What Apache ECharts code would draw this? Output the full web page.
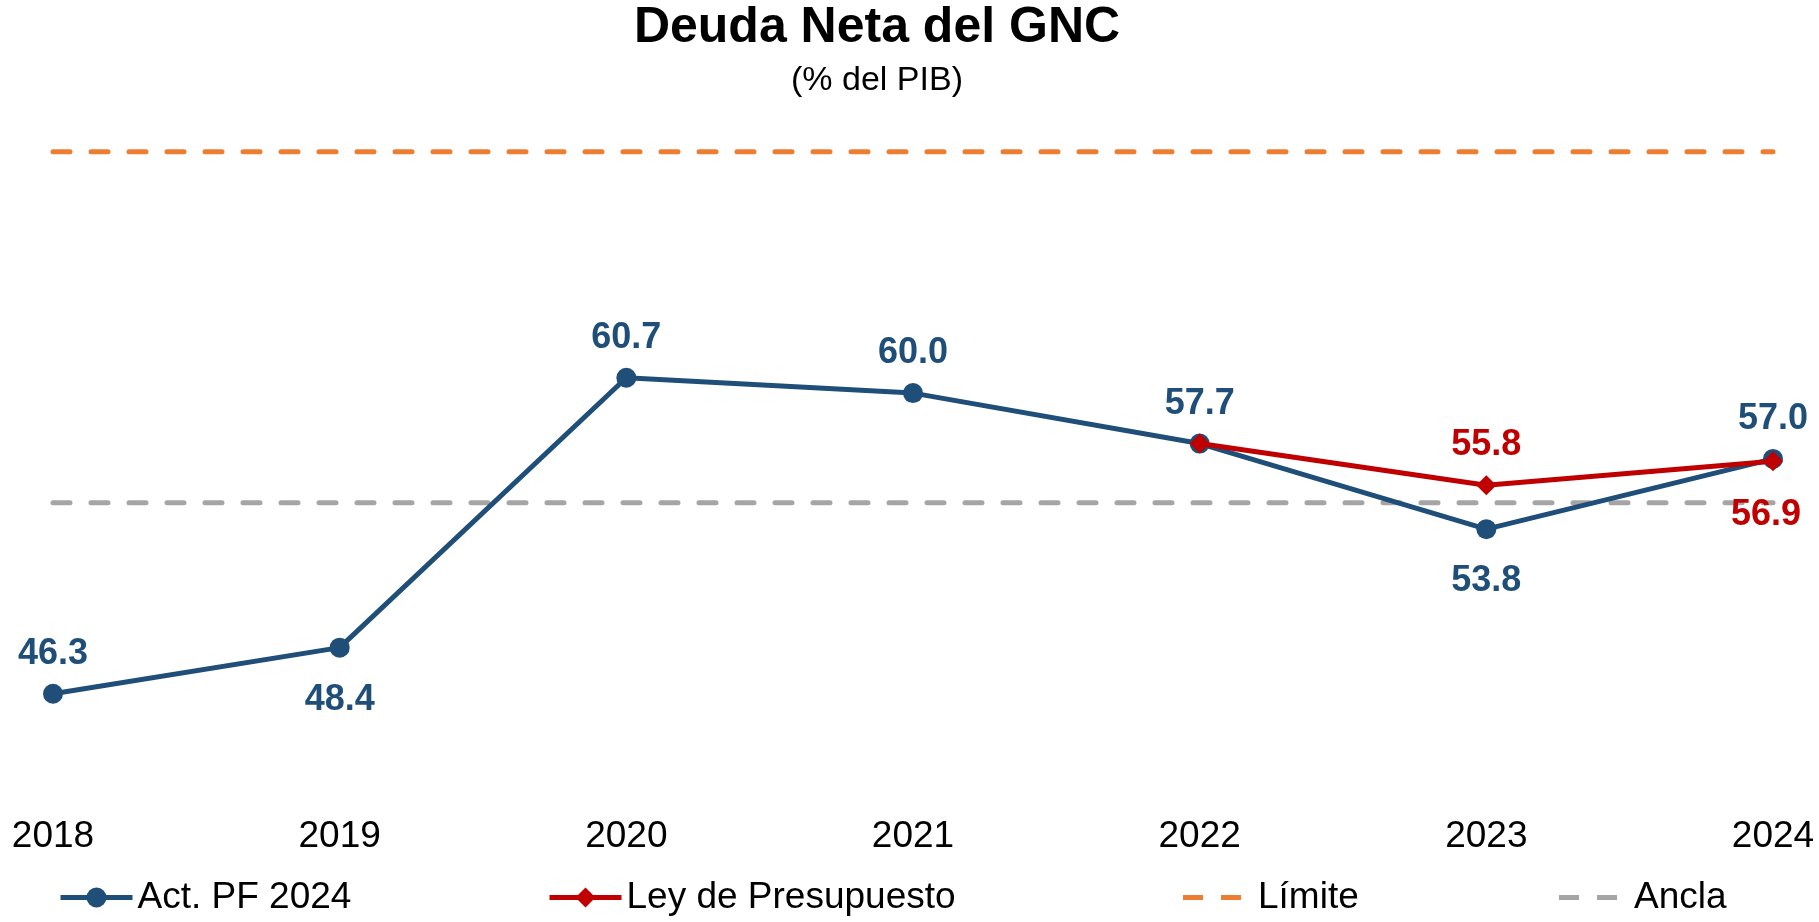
<!DOCTYPE html>
<html>
<head>
<meta charset="utf-8">
<title>Deuda Neta del GNC</title>
<script src="https://cdn.jsdelivr.net/npm/echarts@6/dist/echarts.min.js"></script>
<style>
  html, body { margin: 0; padding: 0; background: #ffffff; }
  #chart { width: 1819px; height: 922px; }
</style>
</head>
<body>
<div id="chart"></div>
<script>
// Years on the horizontal axis
const years = ['2018', '2019', '2020', '2021', '2022', '2023', '2024'];
// Net debt of the central government, % of GDP
const actPF2024 = [46.3, 48.4, 60.7, 60.0, 57.7, 53.8, 57.0];
const leyPresupuesto = [null, null, null, null, 57.7, 55.8, 56.9];
// Fiscal rule thresholds
const limite = 71;
const ancla = 55;

const BLUE = '#1F4E79';
const RED = '#C00000';
const ORANGE = '#ED7D31';
const GRAY = '#A5A5A5';
const FONT = '"Liberation Sans", Arial, sans-serif';

// which points carry their value label under the marker
const blueBelow = [false, true, false, false, false, true, false];
const redShown = [false, false, false, false, false, true, true];
const redBelow = [false, false, false, false, false, false, true];

const labelBase = {
  show: true,
  fontFamily: FONT,
  fontWeight: 'bold',
  fontSize: 36,
  formatter: p => p.value.toFixed(1)
};

const blueData = actPF2024.map((v, i) => ({
  value: v,
  label: Object.assign({}, labelBase, {
    color: BLUE,
    position: blueBelow[i] ? 'bottom' : 'top',
    distance: blueBelow[i] ? 24 : 12
  })
}));

const redData = leyPresupuesto.map((v, i) => (v === null ? null : {
  value: v,
  label: Object.assign({}, labelBase, {
    show: redShown[i],
    color: RED,
    position: redBelow[i] ? 'bottom' : 'top',
    distance: redBelow[i] ? 26 : 12,
    offset: redBelow[i] ? [-7, 0] : [0, 0]
  })
}));

const dashStyle = [17, 21];
// two short dashes used as the legend key of the threshold lines
const dashIcon = 'path://M0,0H20V5H0Z M38,0H58V5H38Z';
const legendText = { fontFamily: FONT, fontSize: 37, color: '#000000' };
const legendTextDash = Object.assign({}, legendText, { padding: [0, 0, 0, 12] });

const chart = echarts.init(document.getElementById('chart'), null, { renderer: 'canvas' });

chart.setOption({
  animation: false,
  backgroundColor: '#ffffff',
  title: [
    {
      text: 'Deuda Neta del GNC',
      left: 877,
      top: 3,
      padding: 0,
      textAlign: 'center',
      textStyle: { fontFamily: FONT, fontWeight: 'bold', fontSize: 50, color: '#000000' }
    },
    {
      text: '(% del PIB)',
      left: 877,
      top: 64,
      padding: 0,
      textAlign: 'center',
      textStyle: { fontFamily: FONT, fontWeight: 'normal', fontSize: 34, color: '#000000' }
    }
  ],
  legend: [
    {
      data: ['Act. PF 2024'], left: 58, top: 879, padding: 0,
      itemWidth: 72, itemHeight: 25, lineStyle: { width: 5 }, textStyle: legendText
    },
    {
      data: ['Ley de Presupuesto'], left: 547, top: 879, padding: 0,
      itemWidth: 72, itemHeight: 25, lineStyle: { width: 5 }, textStyle: legendText
    },
    {
      data: [{ name: 'Límite', icon: dashIcon }], left: 1183, top: 879, padding: 0,
      itemWidth: 58, itemHeight: 25, textStyle: legendTextDash
    },
    {
      data: [{ name: 'Ancla', icon: dashIcon }], left: 1559, top: 879, padding: 0,
      itemWidth: 58, itemHeight: 25, textStyle: legendTextDash
    }
  ],
  grid: { left: 53, right: 46, top: 64, bottom: 112, containLabel: false },
  xAxis: {
    type: 'category',
    data: years,
    boundaryGap: false,
    axisLine: { show: false },
    axisTick: { show: false },
    splitLine: { show: false },
    axisLabel: { fontFamily: FONT, fontSize: 37, color: '#000000', margin: 8, lineHeight: 37 }
  },
  yAxis: {
    type: 'value',
    min: 41,
    max: 75,
    show: false,
    splitLine: { show: false }
  },
  series: [
    {
      name: 'Límite',
      type: 'line',
      data: years.map(() => limite),
      symbol: 'none',
      lineStyle: { color: ORANGE, width: 5, type: dashStyle, cap: 'round' },
      itemStyle: { color: ORANGE },
      z: 1,
      silent: true
    },
    {
      name: 'Ancla',
      type: 'line',
      data: years.map(() => ancla),
      symbol: 'none',
      lineStyle: { color: GRAY, width: 5, type: dashStyle, cap: 'round' },
      itemStyle: { color: GRAY },
      z: 1,
      silent: true
    },
    {
      name: 'Act. PF 2024',
      type: 'line',
      data: blueData,
      symbol: 'circle',
      symbolSize: 20,
      lineStyle: { color: BLUE, width: 5 },
      itemStyle: { color: BLUE },
      z: 3
    },
    {
      name: 'Ley de Presupuesto',
      type: 'line',
      data: redData,
      symbol: 'diamond',
      symbolSize: 20,
      connectNulls: false,
      lineStyle: { color: RED, width: 5 },
      itemStyle: { color: RED },
      z: 4
    }
  ]
});
</script>
</body>
</html>
